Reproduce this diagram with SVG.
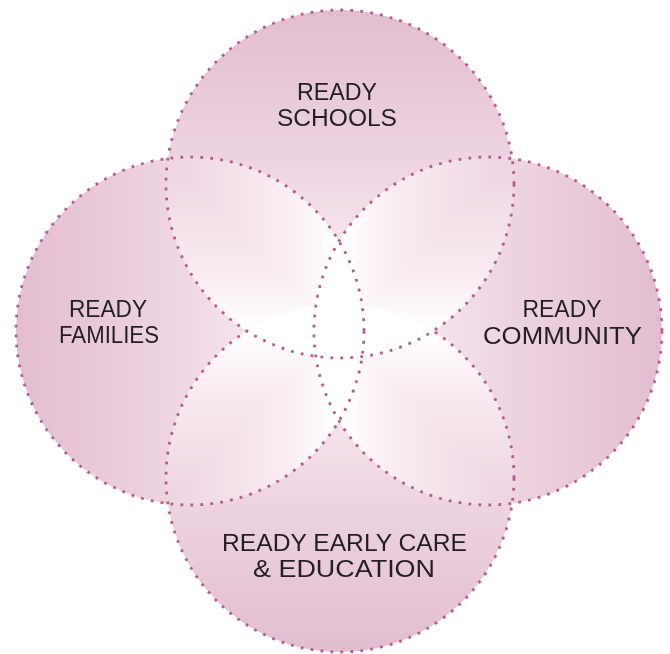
<svg xmlns="http://www.w3.org/2000/svg" width="670" height="654" viewBox="0 0 670 654">
  <defs>
    <linearGradient id="gTop" x1="0" y1="0" x2="0" y2="1">
      <stop offset="0" stop-color="#e2bdd0"/>
      <stop offset="0.45" stop-color="#eed5e1"/>
      <stop offset="0.75" stop-color="#f8ebf1"/>
      <stop offset="0.92" stop-color="#ffffff"/>
    </linearGradient>
    <linearGradient id="gBottom" x1="0" y1="1" x2="0" y2="0">
      <stop offset="0" stop-color="#e2bdd0"/>
      <stop offset="0.45" stop-color="#eed5e1"/>
      <stop offset="0.75" stop-color="#f8ebf1"/>
      <stop offset="0.92" stop-color="#ffffff"/>
    </linearGradient>
    <linearGradient id="gLeft" x1="0" y1="0" x2="1" y2="0">
      <stop offset="0" stop-color="#e2bdd0"/>
      <stop offset="0.45" stop-color="#eed5e1"/>
      <stop offset="0.75" stop-color="#f8ebf1"/>
      <stop offset="0.92" stop-color="#ffffff"/>
    </linearGradient>
    <linearGradient id="gRight" x1="1" y1="0" x2="0" y2="0">
      <stop offset="0" stop-color="#e2bdd0"/>
      <stop offset="0.45" stop-color="#eed5e1"/>
      <stop offset="0.75" stop-color="#f8ebf1"/>
      <stop offset="0.92" stop-color="#ffffff"/>
    </linearGradient>
    <clipPath id="outsideTop">
      <path clip-rule="evenodd" d="M0 0H670V654H0Z M340 10A174 174 0 1 0 340.01 10Z"/>
    </clipPath>
  </defs>
  <style>
    .fill { stroke: none; mix-blend-mode: lighten; }
    .outline { fill: none; stroke: #b85b91; stroke-width: 2.8; stroke-dasharray: 2.8 7.2; }
    .label { font-family: "Liberation Sans", Arial, sans-serif; font-size: 23px; fill: #231f20; text-anchor: middle; }
  </style>
  <rect width="670" height="654" fill="#ffffff"/>
  <g id="nodes" style="isolation:isolate">
    <g id="node-early-care">
      <circle class="fill" cx="340" cy="478" r="174" fill="url(#gBottom)"/>
    </g>
    <g id="node-families">
      <circle class="fill" cx="190" cy="331" r="174" fill="url(#gLeft)"/>
    </g>
    <g id="node-community">
      <circle class="fill" cx="488" cy="331" r="174" fill="url(#gRight)"/>
    </g>
    <g id="node-schools">
      <circle class="fill" cx="340" cy="184" r="174" fill="url(#gTop)"/>
    </g>
  </g>
  <g id="outlines">
    <circle class="outline" cx="340" cy="478" r="174" clip-path="url(#outsideTop)"/>
    <circle class="outline" cx="190" cy="331" r="174"/>
    <circle class="outline" cx="488" cy="331" r="174"/>
    <circle class="outline" cx="340" cy="184" r="174"/>
  </g>
  <g id="labels">
    <g id="label-schools">
      <text class="label" x="337" y="100" textLength="80" lengthAdjust="spacingAndGlyphs">READY</text>
      <text class="label" x="337" y="126" textLength="120" lengthAdjust="spacingAndGlyphs">SCHOOLS</text>
    </g>
    <g id="label-families">
      <text class="label" x="108" y="317" textLength="78" lengthAdjust="spacingAndGlyphs">READY</text>
      <text class="label" x="109" y="343" textLength="100" lengthAdjust="spacingAndGlyphs">FAMILIES</text>
    </g>
    <g id="label-community">
      <text class="label" x="562" y="317" textLength="79" lengthAdjust="spacingAndGlyphs">READY</text>
      <text class="label" x="562.5" y="344" textLength="159" lengthAdjust="spacingAndGlyphs">COMMUNITY</text>
    </g>
    <g id="label-early-care">
      <text class="label" x="344.5" y="551" textLength="245" lengthAdjust="spacingAndGlyphs">READY EARLY CARE</text>
      <text class="label" x="344" y="577" textLength="182" lengthAdjust="spacingAndGlyphs">&amp; EDUCATION</text>
    </g>
  </g>
</svg>
